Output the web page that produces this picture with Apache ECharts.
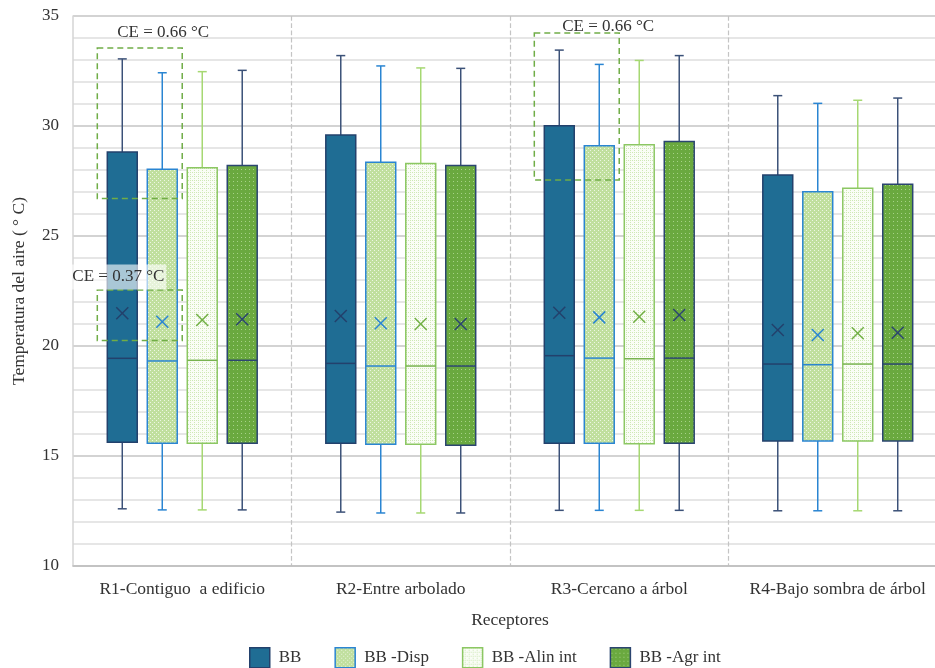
<!DOCTYPE html>
<html>
<head>
<meta charset="utf-8">
<script src="https://cdn.jsdelivr.net/npm/echarts@6/dist/echarts.min.js"></script>
<style>
  html, body { margin: 0; padding: 0; background: #fff; overflow: hidden; }
  #chart { width: 950px; height: 668px; }
</style>
</head>
<body>
<div id="chart"></div>
<script>
// receptores (eje x)
const categories = ["R1-Contiguo  a edificio", "R2-Entre arbolado", "R3-Cercano a árbol", "R4-Bajo sombra de árbol"];
const seriesNames = ["BB", "BB -Disp", "BB -Alin int", "BB -Agr int"];
// cada fila: [min, q1, mediana, q3, max, media]
const bbData = [
  [12.6, 15.62, 19.44, 28.82, 33.05, 21.49],
  [12.45, 15.58, 19.21, 29.59, 33.2, 21.36],
  [12.53, 15.58, 19.56, 30.01, 33.45, 21.51],
  [12.51, 15.68, 19.18, 27.77, 31.38, 20.73],
];
const dispData = [
  [12.55, 15.58, 19.32, 28.03, 32.42, 21.1],
  [12.41, 15.53, 19.09, 28.35, 32.73, 21.03],
  [12.53, 15.58, 19.45, 29.1, 32.8, 21.3],
  [12.51, 15.68, 19.15, 27.01, 31.03, 20.5],
];
const alinData = [
  [12.55, 15.58, 19.35, 28.1, 32.47, 21.18],
  [12.41, 15.53, 19.09, 28.3, 32.64, 21.0],
  [12.53, 15.56, 19.42, 29.15, 32.98, 21.33],
  [12.51, 15.68, 19.18, 27.17, 31.17, 20.58],
];
const agrData = [
  [12.55, 15.58, 19.35, 28.2, 32.53, 21.22],
  [12.41, 15.49, 19.09, 28.2, 32.62, 21.0],
  [12.53, 15.58, 19.45, 29.3, 33.2, 21.41],
  [12.51, 15.68, 19.18, 27.35, 31.27, 20.6],
];
// anotaciones CE: receptor, y inferior, y superior, texto
const ceCategory = [0, 0, 2];
const ceRange = [[26.7, 33.55], [20.25, 22.55], [27.55, 34.23]];
const ceText = ["CE = 0.66 °C", "CE = 0.37 °C", "CE = 0.66 °C"];

const FONT = "Liberation Serif";
const STEP = 0.183;  // separacion entre cajas (fraccion de la banda)
const BOXW = 0.137;  // ancho de caja (fraccion de la banda)

function pattern(base, dot, cells) {
  const c = document.createElement("canvas");
  c.width = 4;
  c.height = 4;
  const g = c.getContext("2d");
  g.fillStyle = base;
  g.fillRect(0, 0, 4, 4);
  g.fillStyle = dot;
  cells.forEach(([x, y]) => g.fillRect(x, y, 1, 1));
  return { image: c, repeat: "repeat" };
}

const patDisp = pattern("#c0df9e", "#ecf6e2", [[0, 0], [2, 2]]);
const patAlin = pattern("#fafdf6", "#cfe8b6", [[0, 0], [2, 2], [2, 0]]);
const patAgr = pattern("#6aa93f", "#a6d287", [[1, 1]]);

const styles = [
  { fill: "#1f6d94", border: "#23416c", whisker: "#3b5178", median: "#23416c", mean: "#23416c" },
  { fill: patDisp, border: "#2a85d2", whisker: "#2a85d2", median: "#2a85d2", mean: "#2a85d2" },
  { fill: patAlin, border: "#8cc763", whisker: "#a6d872", median: "#78b34f", mean: "#72b046" },
  { fill: patAgr, border: "#2b4570", whisker: "#3b5178", median: "#2b4570", mean: "#2b4570" },
];

function boxRenderer(idx) {
  const s = styles[idx];
  return function (params, api) {
    const cat = api.value(0);
    const band = api.size([1, 0])[0];
    const pMin = api.coord([cat, api.value(1)]);
    const pQ1 = api.coord([cat, api.value(2)]);
    const pMed = api.coord([cat, api.value(3)]);
    const pQ3 = api.coord([cat, api.value(4)]);
    const pMax = api.coord([cat, api.value(5)]);
    const pMean = api.coord([cat, api.value(6)]);
    const cx = pMin[0] + (idx - 1.5) * STEP * band;
    const hw = (BOXW * band) / 2;
    const cap = 4.5;
    const m = 6;
    const wStyle = { stroke: s.whisker, lineWidth: 1.5 };
    return {
      type: "group",
      children: [
        { type: "line", shape: { x1: cx, y1: pQ3[1], x2: cx, y2: pMax[1] }, style: wStyle },
        { type: "line", shape: { x1: cx - cap, y1: pMax[1], x2: cx + cap, y2: pMax[1] }, style: wStyle },
        { type: "line", shape: { x1: cx, y1: pQ1[1], x2: cx, y2: pMin[1] }, style: wStyle },
        { type: "line", shape: { x1: cx - cap, y1: pMin[1], x2: cx + cap, y2: pMin[1] }, style: wStyle },
        {
          type: "rect",
          shape: { x: cx - hw, y: pQ3[1], width: hw * 2, height: pQ1[1] - pQ3[1] },
          style: { fill: s.fill, stroke: s.border, lineWidth: 1.5 },
        },
        { type: "line", shape: { x1: cx - hw, y1: pMed[1], x2: cx + hw, y2: pMed[1] }, style: { stroke: s.median, lineWidth: 1.5 } },
        { type: "line", shape: { x1: cx - m, y1: pMean[1] - m, x2: cx + m, y2: pMean[1] + m }, style: { stroke: s.mean, lineWidth: 1.5 } },
        { type: "line", shape: { x1: cx - m, y1: pMean[1] + m, x2: cx + m, y2: pMean[1] - m }, style: { stroke: s.mean, lineWidth: 1.5 } },
      ],
    };
  };
}

// posicion de cada etiqueta CE respecto al recuadro
const ceLabelPos = [
  { ref: "right", dx: -19, dy: -15, bg: null },
  { ref: "left", dx: 21, dy: -13, bg: "rgba(255,255,255,0.62)" },
  { ref: "right", dx: -11, dy: -6, bg: null },
];

function ceRenderer(params, api) {
  const i = params.dataIndex;
  const cat = api.value(0);
  const band = api.size([1, 0])[0];
  const lo = api.coord([cat, api.value(1)]);
  const hi = api.coord([cat, api.value(2)]);
  const left = lo[0] + (-1.5 * STEP - BOXW / 2) * band - 10;
  const right = lo[0] + (-0.5 * STEP + BOXW / 2) * band + 5;
  const lp = ceLabelPos[i];
  const tx = (lp.ref === "right" ? right : left) + lp.dx;
  const ty = hi[1] + lp.dy;
  const label = {
    type: "text",
    style: {
      text: ceText[i],
      x: tx,
      y: ty,
      align: "center",
      verticalAlign: "middle",
      font: "17px " + FONT,
      fill: "#333",
    },
  };
  if (lp.bg) {
    label.style.backgroundColor = lp.bg;
    label.style.padding = [4, 2, 4, 2];
  }
  return {
    type: "group",
    children: [
      {
        type: "rect",
        shape: { x: left, y: hi[1], width: right - left, height: lo[1] - hi[1] },
        style: { fill: null, stroke: "#70ad47", lineWidth: 1.5, lineDash: [6, 4] },
      },
      label,
    ],
  };
}

const allData = [bbData, dispData, alinData, agrData];

const boxSeries = allData.map((arr, idx) => ({
  name: seriesNames[idx],
  type: "custom",
  renderItem: boxRenderer(idx),
  itemStyle: { color: styles[idx].fill, borderColor: styles[idx].border },
  encode: { x: 0, y: [1, 2, 3, 4, 5, 6] },
  data: arr.map((d, i) => [i, ...d]),
  z: 2,
}));

const ceSeries = {
  name: "CE",
  type: "custom",
  renderItem: ceRenderer,
  encode: { x: 0, y: [1, 2] },
  data: ceCategory.map((c, i) => [c, ceRange[i][0], ceRange[i][1]]),
  z: 5,
  silent: true,
};

const chart = echarts.init(document.getElementById("chart"));
chart.setOption({
  animation: false,
  textStyle: { fontFamily: FONT },
  grid: { left: 73, top: 16, width: 874, height: 550 },
  legend: {
    left: 244,
    top: 642,
    itemWidth: 20,
    itemHeight: 20,
    itemGap: 33,
    textStyle: { fontFamily: FONT, fontSize: 17, color: "#333", padding: [0, 0, 0, 4] },
    data: seriesNames.map((n, i) => ({
      name: n,
      icon: "rect",
      itemStyle: { color: styles[i].fill, borderColor: styles[i].border, borderWidth: 1.5 },
    })),
  },
  xAxis: {
    type: "category",
    data: categories,
    name: "Receptores",
    nameLocation: "middle",
    nameGap: 45,
    nameTextStyle: { fontFamily: FONT, fontSize: 17.5, color: "#333" },
    axisLine: { lineStyle: { color: "#bfbfbf", width: 1.5 } },
    axisTick: { show: false },
    axisLabel: { interval: 0, margin: 14, fontFamily: FONT, fontSize: 17.5, color: "#333" },
    splitLine: {
      show: true,
      showMinLine: false,
      lineStyle: { type: "dashed", color: "#c4c4c4", width: 1.2 },
    },
  },
  yAxis: {
    type: "value",
    min: 10,
    max: 35,
    interval: 5,
    name: "Temperatura del aire ( ° C)",
    nameLocation: "middle",
    nameGap: 45,
    nameTextStyle: { fontFamily: FONT, fontSize: 17.5, color: "#333" },
    axisLine: { show: true, lineStyle: { color: "#d4d4d4", width: 1.5 } },
    axisTick: { show: false },
    axisLabel: { margin: 14, fontFamily: FONT, fontSize: 17, color: "#333" },
    splitLine: { lineStyle: { color: "#c4c4c4", width: 1.5 } },
    minorTick: { show: false, splitNumber: 5 },
    minorSplitLine: { show: true, lineStyle: { color: "#dedede", width: 1.5 } },
  },
  series: [...boxSeries, ceSeries],
});
</script>
</body>
</html>
